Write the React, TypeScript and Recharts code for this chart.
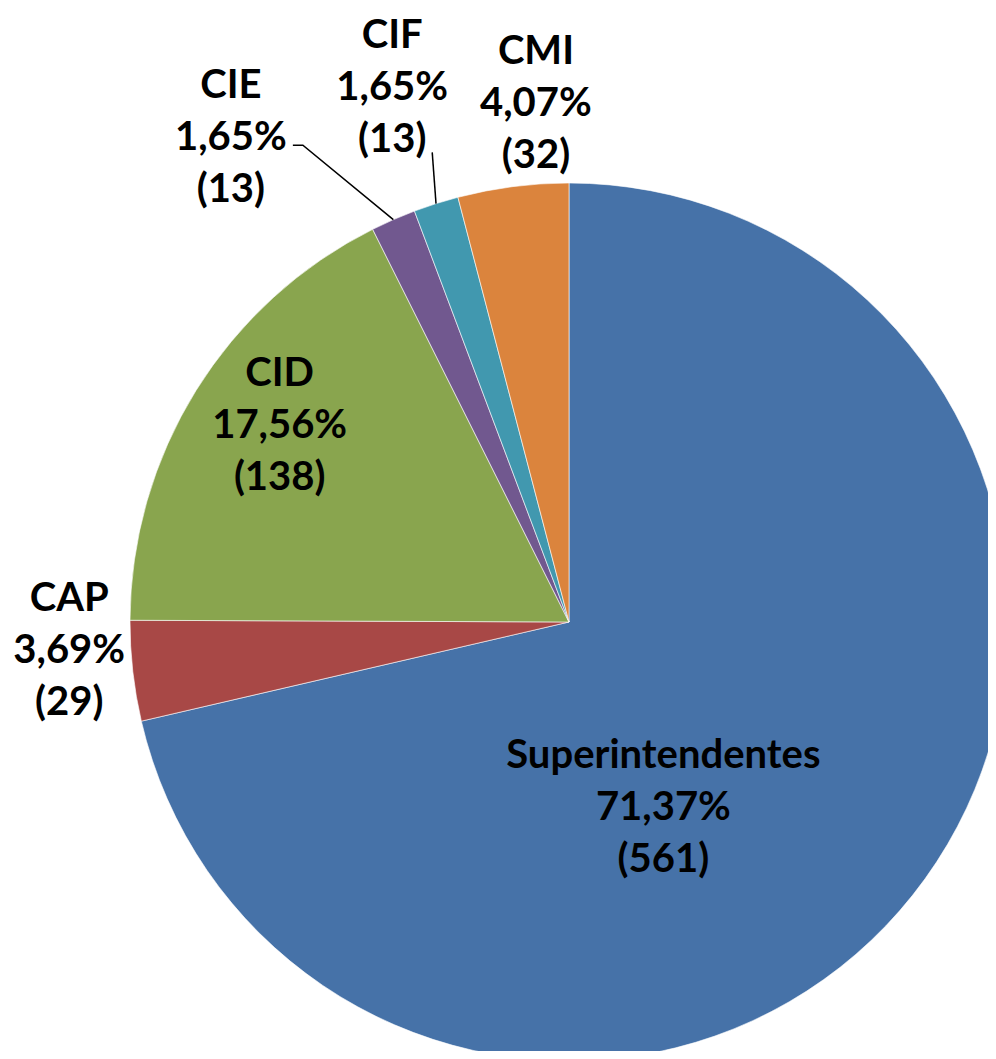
import { PieChart, Pie, Cell } from "recharts"

const categories = ["Superintendentes", "CAP", "CID", "CIE", "CIF", "CMI"]
const counts = [561, 29, 138, 13, 13, 32]
const colors = ["#4672A8", "#A84846", "#89A54E", "#71588F", "#4198AF", "#DB843D"]

const total = counts.reduce((a, b) => a + b, 0)
const data = categories.map((name, i) => ({ name, value: counts[i] }))

// label placement: angle offset from the slice middle (deg) and radius factor
const labelPlace: Record<string, { da: number; rf: number; line?: "elbow" | "straight" }> = {
  Superintendentes: { da: -24.3, rf: 0.47 },
  CAP: { da: -3.4, rf: 1.14 },
  CID: { da: -2.7, rf: 0.8 },
  CIE: { da: 11.2, rf: 1.35, line: "elbow" },
  CIF: { da: 0.6, rf: 1.287, line: "straight" },
  CMI: { da: -3.7, rf: 1.19 },
}

const RAD = Math.PI / 180
const LINE_H = 52

function renderLabel(props: any) {
  const { cx, cy, midAngle, outerRadius, name, value } = props
  const p = labelPlace[name]
  const a = midAngle + p.da
  const r = outerRadius * p.rf
  const x = cx + r * Math.cos(-a * RAD)
  const y = cy + r * Math.sin(-a * RAD)
  const pct = ((value / total) * 100).toFixed(2).replace(".", ",") + "%"
  const ex = cx + outerRadius * Math.cos(-midAngle * RAD)
  const ey = cy + outerRadius * Math.sin(-midAngle * RAD)
  let line = null
  if (p.line === "elbow") {
    line = (
      <polyline
        points={`${x + 62},${y + 10} ${x + 72},${y + 10} ${ex},${ey}`}
        fill="none"
        stroke="#000"
        strokeWidth={1.5}
      />
    )
  } else if (p.line === "straight") {
    line = <line x1={x + 40} y1={y + 67} x2={ex} y2={ey} stroke="#000" strokeWidth={1.5} />
  }
  return (
    <g>
      {line}
      <text
        x={x}
        y={y}
        textAnchor="middle"
        fill="#000"
        fontFamily="Lato, 'Open Sans', sans-serif"
        fontWeight="bold"
        fontSize={40}
      >
        <tspan x={x} y={y - LINE_H} dominantBaseline="central">{name}</tspan>
        <tspan x={x} y={y} dominantBaseline="central">{pct}</tspan>
        <tspan x={x} y={y + LINE_H} dominantBaseline="central">({value})</tspan>
      </text>
    </g>
  )
}

export default function App() {
  return (
    <div style={{ margin: -8, width: 996, height: 1059, background: "#fff", overflow: "hidden" }}>
      <PieChart width={996} height={1059} margin={{ top: 0, right: 0, bottom: 0, left: 0 }}>
        <Pie
          data={data}
          dataKey="value"
          nameKey="name"
          cx={569}
          cy={622}
          outerRadius={439}
          startAngle={90}
          endAngle={-270}
          stroke="#ffffff"
          strokeWidth={0.6}
          label={renderLabel}
          labelLine={false}
          isAnimationActive={false}
        >
          {data.map((d, i) => (
            <Cell key={d.name} fill={colors[i]} />
          ))}
        </Pie>
      </PieChart>
    </div>
  )
}
